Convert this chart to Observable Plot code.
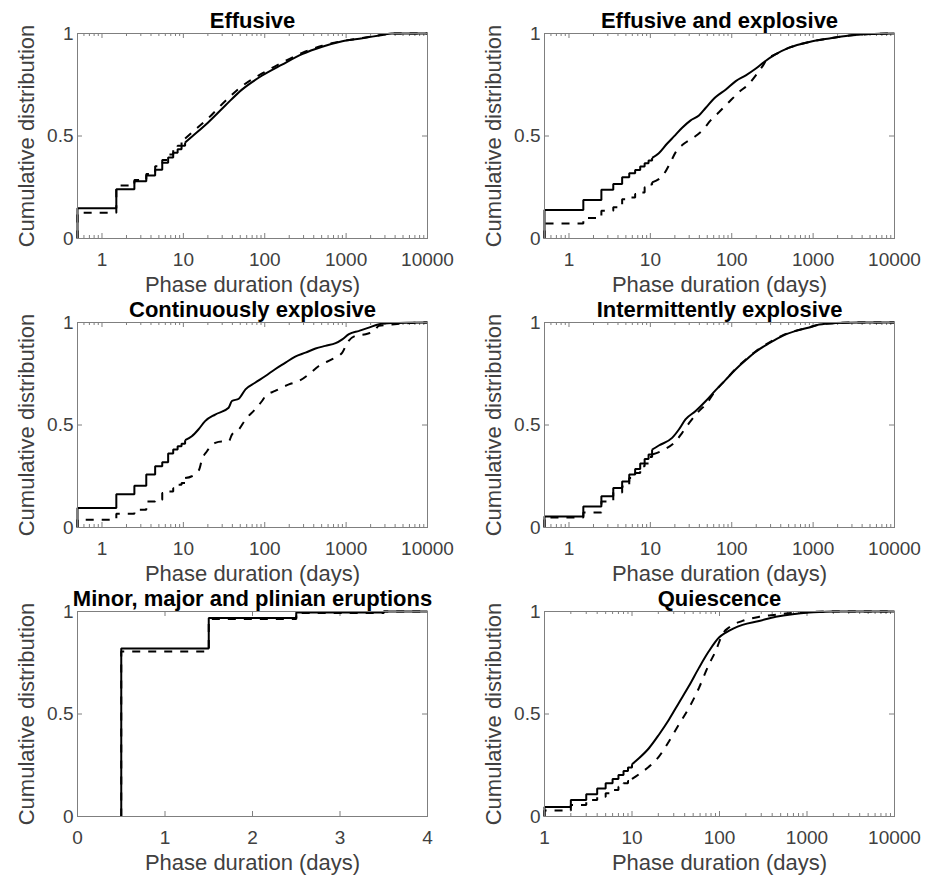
<!DOCTYPE html>
<html><head><meta charset="utf-8">
<script src="https://cdn.jsdelivr.net/npm/d3@7"></script>
<script src="https://cdn.jsdelivr.net/npm/@observablehq/plot@0.6"></script>
<style>
body{margin:0;background:#fff;}
#chart{position:relative;width:933px;height:878px;overflow:hidden;background:#fff;}
#chart svg{position:absolute;overflow:visible;}
</style></head><body><div id="chart"></div>
<script>
// ---- Tick values and labels ----
const logTicks = [1, 10, 100, 1000, 10000];
const logTickLabels = ["1", "10", "100", "1000", "10000"];
const linTicks = [0, 1, 2, 3, 4];
const linTickLabels = ["0", "1", "2", "3", "4"];
const yTicks = [0, 0.5, 1];
const yTickLabels = ["0", "0.5", "1"];

// ---- Panel titles ----
const titles = ["Effusive", "Effusive and explosive", "Continuously explosive",
  "Intermittently explosive", "Minor, major and plinian eruptions", "Quiescence"];

// ---- Effusive ----
const effSolidX = [0.5,0.5,1.5,2.5,3.5,4.5,5.5,6.5,7.5,8.5,9.5,10.5,13,20,33,52,93,163,288,508,897,1582,2800,3650,10000];
const effSolidY = [0,0.148,0.24,0.279,0.307,0.335,0.37,0.395,0.418,0.435,0.452,0.468,0.5,0.565,0.65,0.725,0.795,0.848,0.899,0.935,0.962,0.977,0.993,1,1];
const effDashX = [0.5,0.5,1.5,2.5,3.5,4.5,5.5,6.5,7.5,8.5,9.5,10.5,13,20,33,52,93,163,288,508,897,1582,2800,3650,10000];
const effDashY = [0,0.126,0.258,0.285,0.315,0.352,0.383,0.41,0.432,0.452,0.47,0.488,0.52,0.585,0.672,0.742,0.805,0.858,0.905,0.94,0.963,0.978,0.994,1,1];

// ---- Effusive and explosive ----
const eeSolidX = [0.5,0.5,1.5,2.5,3.5,4.5,5.5,6.5,7.5,8.5,9.5,10.5,12.7,16,19.5,24.6,31,39.5,48,63.5,84,112,149,198,250,348,508,897,1582,2800,4900,10000];
const eeSolidY = [0,0.139,0.188,0.238,0.266,0.299,0.318,0.334,0.351,0.367,0.38,0.393,0.416,0.462,0.498,0.54,0.575,0.6,0.638,0.69,0.726,0.768,0.796,0.829,0.861,0.899,0.931,0.959,0.976,0.99,0.997,1];
const eeDashX = [0.5,0.5,1.5,2.5,3.5,4.5,5.5,6.5,7.5,8.5,9.5,10.5,14.7,17.7,20.4,25.8,34.3,43.4,55,70,92.6,123,163,205,250,267,348,508,897,1582,2800,4900,10000];
const eeDashY = [0,0.073,0.1,0.135,0.152,0.192,0.2,0.217,0.225,0.25,0.263,0.274,0.315,0.372,0.42,0.462,0.494,0.527,0.576,0.617,0.666,0.714,0.755,0.804,0.853,0.873,0.899,0.931,0.959,0.976,0.99,0.997,1];

// ---- Continuously explosive ----
const ceSolidX = [0.5,0.5,1.5,2.5,3.5,4.5,5.5,6.5,7.5,8.5,9.5,10.5,12.7,15.3,18.5,24.6,36,39.5,48,58,76,102,134,180,237,317,421,555,743,897,1084,1440,1900,2540,3650,10000];
const ceSolidY = [0,0.095,0.162,0.204,0.258,0.299,0.318,0.361,0.38,0.396,0.409,0.426,0.445,0.478,0.519,0.551,0.584,0.617,0.628,0.674,0.706,0.739,0.772,0.804,0.834,0.853,0.873,0.886,0.899,0.918,0.943,0.959,0.975,0.992,0.997,1];
const ceDashX = [0.5,0.5,1.5,2.5,3.5,4.5,5.5,6.5,7.5,8.5,9.5,10.5,12.7,15.6,16.9,19.5,24.6,29.6,36,39.5,48,58,76,92.6,102,134,198,262,348,462,675,897,1035,1310,1740,2200,2540,3650,5950,10000];
const ceDashY = [0,0.038,0.067,0.086,0.127,0.135,0.168,0.176,0.192,0.209,0.217,0.241,0.25,0.282,0.331,0.372,0.413,0.42,0.42,0.453,0.478,0.527,0.576,0.617,0.641,0.666,0.698,0.714,0.747,0.788,0.821,0.853,0.902,0.935,0.943,0.959,0.984,0.99,0.997,1];

// ---- Intermittently explosive ----
const ieSolidX = [0.5,0.5,1.5,2.5,3.5,4.5,5.5,6.5,7.5,8.5,9.5,10.5,12.7,18.5,22.4,27,36,48,63.5,84,112,149,198,288,421,615,897,1190,1900,3650,10000];
const ieSolidY = [0,0.054,0.103,0.152,0.193,0.225,0.258,0.285,0.312,0.334,0.356,0.38,0.4,0.437,0.478,0.527,0.568,0.617,0.67,0.72,0.772,0.817,0.858,0.899,0.935,0.959,0.976,0.99,0.997,1,1];
const ieDashX = [0.5,0.5,1.5,2.5,3.5,4.5,5.5,6.5,7.5,8.5,9.5,10.5,15.3,20.4,24.6,31.2,39.5,48,63.5,84,112,149,198,288,421,615,897,1190,1900,3650,10000];
const ieDashY = [0,0.049,0.073,0.127,0.171,0.2,0.241,0.266,0.299,0.312,0.344,0.356,0.383,0.42,0.462,0.519,0.568,0.6,0.668,0.72,0.775,0.82,0.86,0.902,0.937,0.96,0.976,0.99,0.997,1,1];

// ---- Minor, major and plinian eruptions ----
const mmpSolidX = [0.5,0.5,1.5,2.5,3.5,4];
const mmpSolidY = [0,0.82,0.968,0.995,1,1];
const mmpDashX = [0.5,0.5,1.5,2.5,3.5,4];
const mmpDashY = [0,0.805,0.963,0.993,1,1];

// ---- Quiescence ----
const qSolidX = [1,1,2,3,4,5,6,7,8,9,10,12,15.6,20.3,26.4,34.3,44.7,58.2,75.8,98.7,118,183,284,440,684,1060,1500,2000,10000];
const qSolidY = [0,0.046,0.08,0.109,0.137,0.162,0.183,0.203,0.222,0.239,0.255,0.284,0.333,0.399,0.472,0.554,0.636,0.725,0.807,0.873,0.897,0.935,0.954,0.974,0.987,0.995,0.998,1,1];
const qDashX = [1,1,2,3,4,5,6,7,8,9,10,12,15.6,20.3,26.4,34.3,44.7,58.2,75.8,90.4,108,128,183,284,440,684,1060,1500,10000];
const qDashY = [0,0.029,0.056,0.08,0.096,0.113,0.129,0.145,0.162,0.173,0.183,0.206,0.243,0.292,0.366,0.448,0.529,0.627,0.742,0.807,0.889,0.922,0.954,0.974,0.984,0.993,0.997,1,1];

const panels = [
  {title: titles[0], col: 0, row: 0, type: "log", domain: [0.5, 10000], ticks: logTicks, labels: logTickLabels, stepEnd: 10.5, solid: [effSolidX, effSolidY], dash: [effDashX, effDashY]},
  {title: titles[1], col: 1, row: 0, type: "log", domain: [0.5, 10000], ticks: logTicks, labels: logTickLabels, stepEnd: 10.5, solid: [eeSolidX, eeSolidY], dash: [eeDashX, eeDashY]},
  {title: titles[2], col: 0, row: 1, type: "log", domain: [0.5, 10000], ticks: logTicks, labels: logTickLabels, stepEnd: 10.5, solid: [ceSolidX, ceSolidY], dash: [ceDashX, ceDashY]},
  {title: titles[3], col: 1, row: 1, type: "log", domain: [0.5, 10000], ticks: logTicks, labels: logTickLabels, stepEnd: 10.5, solid: [ieSolidX, ieSolidY], dash: [ieDashX, ieDashY]},
  {title: titles[4], col: 0, row: 2, type: "linear", domain: [0, 4], ticks: linTicks, labels: linTickLabels, stepEnd: Infinity, solid: [mmpSolidX, mmpSolidY], dash: [mmpDashX, mmpDashY]},
  {title: titles[5], col: 1, row: 2, type: "log", domain: [1, 10000], ticks: logTicks, labels: logTickLabels, stepEnd: 10, solid: [qSolidX, qSolidY], dash: [qDashX, qDashY]}
];

const colLeft = [0, 467];
const rowTop = [0, 289, 578];
const W = 466, H = 290, mL = 77, mT = 33, mR = 39, mB = 52;
const FW = W - mL - mR, FH = H - mT - mB;
const axisColor = "#7f7f7f";
const textColor = "#404040";
const font = "'Liberation Sans', Arial, Helvetica, sans-serif";

function minorTicks(p) {
  if (p.type !== "log") return [];
  const out = [];
  for (let e = -1; e <= 4; e++) for (let k = 2; k <= 9; k++) {
    const v = k * Math.pow(10, e);
    if (v > p.domain[0] && v < p.domain[1]) out.push(v);
  }
  return out;
}

function lineMarks(series, p, dashed) {
  const [X, Y] = series;
  const idx = X.map((_, i) => i);
  const head = idx.filter(i => X[i] <= p.stepEnd);
  const tail = idx.filter(i => X[i] >= p.stepEnd);
  const common = {x: i => X[i], y: i => Y[i], stroke: "#000", strokeWidth: 2,
    strokeLinecap: "butt", strokeLinejoin: "miter",
    strokeDasharray: dashed ? "8,8" : null};
  const marks = [Plot.line(head, {...common, curve: "step-after"})];
  if (tail.length > 1) marks.push(Plot.line(tail, {...common, curve: "monotone-x"}));
  return marks;
}

const chart = document.getElementById("chart");
for (const p of panels) {
  const minors = minorTicks(p);
  const tickRows = p.ticks.map((v, i) => ({v, t: p.labels[i]}));
  const yRows = yTicks.map((v, i) => ({v, t: yTickLabels[i]}));
  const svg = Plot.plot({
    width: W, height: H,
    marginLeft: mL, marginRight: mR, marginTop: mT, marginBottom: mB,
    x: {type: p.type, domain: p.domain, axis: null},
    y: {domain: [0, 1], axis: null},
    style: {fontFamily: font, overflow: "visible", background: "transparent"},
    marks: [
      // minor ticks (log axes), inward, bottom and top
      Plot.tickX(minors, {x: d => d, insetTop: FH - 3, stroke: axisColor, strokeWidth: 1}),
      Plot.tickX(minors, {x: d => d, insetBottom: FH - 3, stroke: axisColor, strokeWidth: 1}),
      // major ticks, inward
      Plot.tickX(p.ticks, {x: d => d, insetTop: FH - 5, stroke: axisColor, strokeWidth: 1}),
      Plot.tickX(p.ticks, {x: d => d, insetBottom: FH - 5, stroke: axisColor, strokeWidth: 1}),
      Plot.tickY(yTicks, {y: d => d, insetRight: FW - 5, stroke: axisColor, strokeWidth: 1}),
      Plot.tickY(yTicks, {y: d => d, insetLeft: FW - 5, stroke: axisColor, strokeWidth: 1}),
      // data
      ...lineMarks(p.solid, p, false),
      ...lineMarks(p.dash, p, true),
      Plot.frame({stroke: axisColor, strokeWidth: 1}),
      // tick labels
      Plot.text(tickRows, {x: "v", text: "t", frameAnchor: "bottom", textAnchor: "middle", lineAnchor: "top", dy: 14, fontSize: 19, fill: textColor}),
      Plot.text(yRows, {y: "v", text: "t", frameAnchor: "left", textAnchor: "end", dx: -4, fontSize: 19, fill: textColor}),
      // axis labels
      Plot.text(["Phase duration (days)"], {frameAnchor: "bottom", textAnchor: "middle", lineAnchor: "bottom", dy: 53, fontSize: 22, fill: textColor}),
      Plot.text(["Cumulative distribution"], {frameAnchor: "left", textAnchor: "middle", rotate: -90, lineAnchor: "bottom", dx: -44, fontSize: 22, fill: textColor}),
      // title
      Plot.text([p.title], {frameAnchor: "top", textAnchor: "middle", lineAnchor: "bottom", dy: -6, fontSize: 22, fontWeight: "bold", fill: "#000"})
    ]
  });
  svg.style.left = colLeft[p.col] + "px";
  svg.style.top = rowTop[p.row] + "px";
  chart.appendChild(svg);
}
</script>
</body></html>
